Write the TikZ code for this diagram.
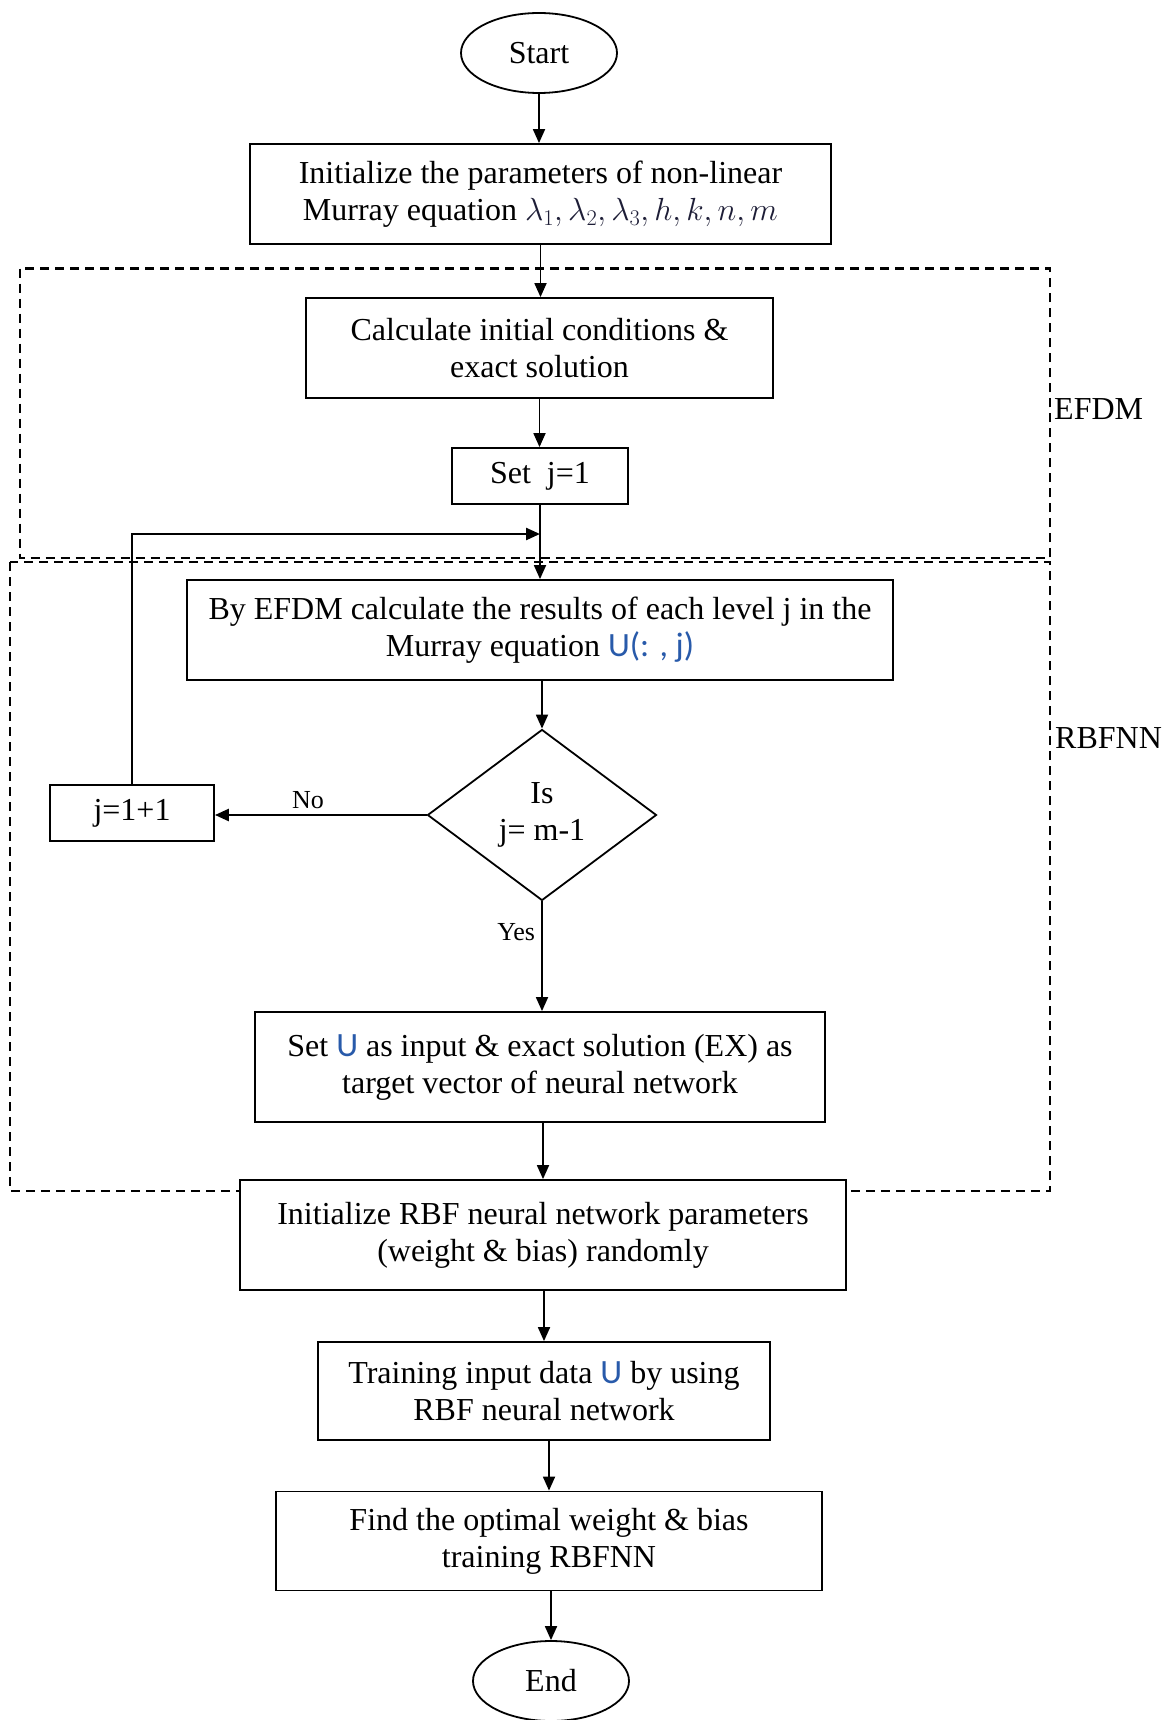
\documentclass[tikz,border=0pt]{standalone}
\usepackage{fix-cm}
\usepackage{fontspec}
\setmainfont{Liberation Serif}
\newfontfamily\calib{Carlito}
\usetikzlibrary{shapes.geometric,arrows.meta}
\definecolor{ublue}{RGB}{40,90,170}
\definecolor{mathc}{RGB}{30,30,55}
\tikzset{
  box/.style={draw, line width=1.8pt, fill=white, align=center, inner sep=0pt,
    font=\fontsize{32}{37}\selectfont},
  term/.style={draw, ellipse, line width=1.8pt, fill=white, inner sep=0pt,
    minimum width=156pt, minimum height=80pt, font=\fontsize{32}{37}\selectfont},
  dec/.style={draw, diamond, line width=1.8pt, fill=white, align=center, inner sep=0pt,
    minimum width=229pt, minimum height=171pt, font=\fontsize{32}{37}\selectfont},
  arr/.style={line width=1.8pt, -{Triangle[length=14pt,width=12pt]}},
  grp/.style={line width=2.4pt, dash pattern=on 9pt off 6pt},
  lbl/.style={font=\fontsize{32}{37}\selectfont, inner sep=0pt},
  small/.style={font=\fontsize{26}{30}\selectfont, inner sep=0pt}
}
\begin{document}
\begin{tikzpicture}[x=1pt,y=-1pt]
\useasboundingbox (0,0) rectangle (1165,1720);
% group frames
\draw[grp] (20,268.6) rectangle (1050,558);
\draw[grp] (10,562) rectangle (1050,1191);
\node[lbl, anchor=west] (lefdm) at (1054,409) {EFDM};
\node[lbl, anchor=west] (lrbf) at (1055,738) {RBFNN};
% nodes
\node[term] (start) at (539,53) {Start};
\node[box, minimum width=581pt, minimum height=100pt] (init) at (540.5,194)
  {Initialize the parameters of non-linear\\Murray equation {\color{mathc}$\lambda_1,\lambda_2,\lambda_3,h,k,n,m$}};
\node[box, minimum width=467pt, minimum height=100pt] (calc) at (539.5,348)
  {Calculate initial conditions \&\\exact solution};
\node[box, minimum width=176pt, minimum height=56pt] (setj) at (540,476) {Set\ \ j=1};
\node[box, minimum width=706pt, minimum height=100pt] (efdm) at (540,630)
  {By EFDM calculate the results of each level j in the\\Murray equation {\calib\fontsize{34}{37}\selectfont\color{ublue}U(: , j)}};
\node[dec] (dec) at (542,815) {Is\\j= m-1};
\node[box, minimum width=164pt, minimum height=56pt] (inc) at (132,813) {j=1+1};
\node[box, minimum width=570pt, minimum height=110pt] (setu) at (540,1067)
  {Set {\calib\fontsize{34}{37}\selectfont\color{ublue}U} as input \& exact solution (EX) as\\target vector of neural network};
\node[box, minimum width=606pt, minimum height=110pt] (initr) at (543,1235)
  {Initialize RBF neural network parameters\\(weight \& bias) randomly};
\node[box, minimum width=452pt, minimum height=98pt] (train) at (544,1391)
  {Training input data {\calib\fontsize{34}{37}\selectfont\color{ublue}U} by using\\RBF neural network};
\node[box, minimum width=546pt, minimum height=99pt] (find) at (549,1541)
  {Find the optimal weight \& bias\\training RBFNN};
\node[term] (end) at (551,1681) {End};
\coordinate (merge) at (540,534);
% connectors
\draw[arr] (start.south) -- (start.south |- init.north);
\draw[arr] (init.south) -- (init.south |- calc.north);
\draw[arr] (calc.south) -- (calc.south |- setj.north);
\draw[arr] (setj.south) -- (setj.south |- efdm.north);
\draw[line width=2.4pt, -{Triangle[length=14pt,width=12pt]}] (inc.north) -- (inc.north |- merge) -- (merge);
\draw[arr] (efdm.south -| dec.north) -- (dec.north);
\draw[line width=2.6pt, -{Triangle[length=14pt,width=12pt]}] (dec.west) -- (dec.west -| inc.east)
  node[small, pos=0.56, above=5pt] (lno) {No};
\draw[arr] (dec.south) -- (dec.south |- setu.north)
  node[small, pos=0.28, left=6pt] (lyes) {Yes};
\draw[arr] (initr.north |- setu.south) -- (initr.north);
\draw[arr] (train.north |- initr.south) -- (train.north);
\draw[arr] (train.south -| find.north) -- (find.north);
\draw[arr] (find.south -| end.north) -- (end.north);
\end{tikzpicture}
\end{document}
